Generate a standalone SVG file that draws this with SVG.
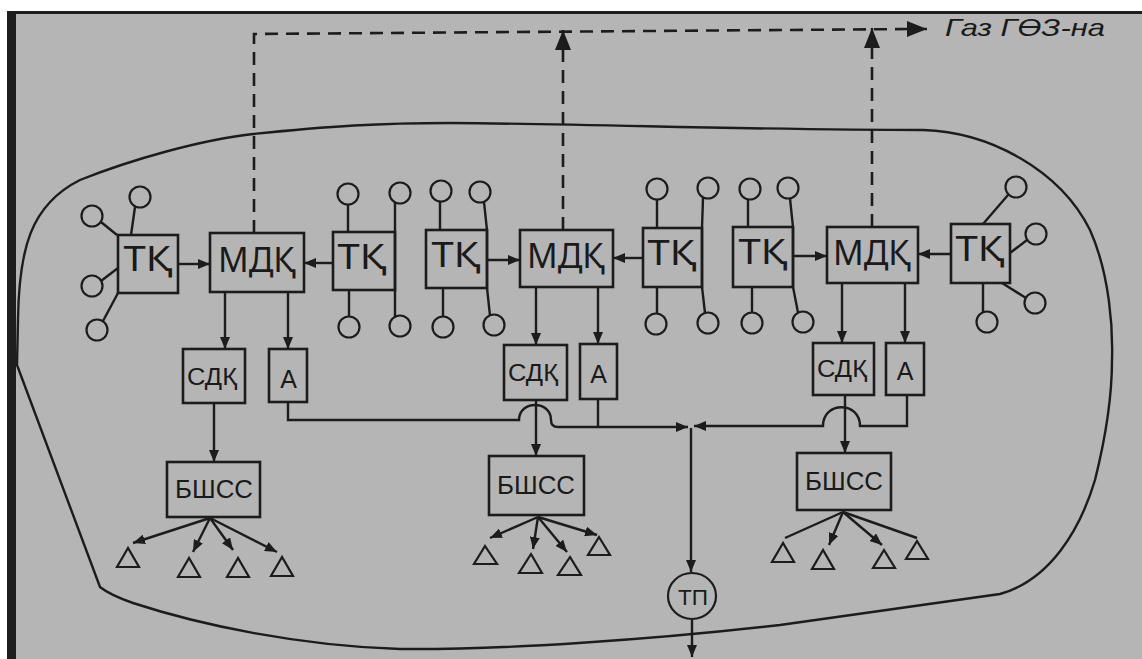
<svg xmlns="http://www.w3.org/2000/svg" width="1142" height="659" viewBox="0 0 1142 659">
<style>
.ln{fill:none;stroke:#1c1c1c;stroke-width:2.4}
.dash{fill:none;stroke:#1c1c1c;stroke-width:2.6;stroke-dasharray:13 8}
.box{fill:none;stroke:#1c1c1c;stroke-width:2.6}
.cir{fill:none;stroke:#1c1c1c;stroke-width:2.2}
.tri{fill:none;stroke:#1c1c1c;stroke-width:2.2;stroke-linejoin:miter}
.big{font-family:"Noto Sans","Open Sans","DejaVu Sans",sans-serif;font-size:34px;fill:#1a1a1a;text-anchor:middle}
.sm{font-family:"Liberation Sans","DejaVu Sans",sans-serif;fill:#1a1a1a;text-anchor:middle}
.lbl{font-family:"Liberation Sans","DejaVu Sans",sans-serif;font-style:italic;font-size:24px;fill:#1a1a1a}
</style>
<defs>
<marker id="ah" viewBox="0 0 12 10" refX="12" refY="5" markerWidth="12" markerHeight="10" markerUnits="userSpaceOnUse" orient="auto">
<path d="M0,0 L12,5 L0,10 Z" fill="#1c1c1c"/>
</marker>
<marker id="ahb" viewBox="0 0 20 16" refX="20" refY="8" markerWidth="20" markerHeight="16" markerUnits="userSpaceOnUse" orient="auto">
<path d="M0,0 L20,8 L0,16 Z" fill="#1c1c1c"/>
</marker>
</defs>
<rect x="0" y="0" width="1142" height="659" fill="#ffffff"/>
<rect x="7" y="11" width="1135" height="648" fill="#1e1e1e"/>
<rect x="16" y="14" width="1126" height="645" fill="#b5b5b5"/>

<path class="ln" d="M17,365 L18,320 C19,250 30,205 80,180 C130,160 200,140 253,134 C330,126 380,123 450,123 C600,124 750,130 923,130 C990,132 1060,170 1090,230 C1110,275 1113,330 1112,360 C1112,400 1105,440 1095,480 C1080,530 1050,580 1000,594 L780,625 C650,640 500,650 400,649 C300,646 200,625 133,603 Q110,595 100,587 Z"/>

<g id="connectors">
<path class="dash" d="M254,233 V34 L913,29"/>
<path class="ln" d="M913,29 L927,29" marker-end="url(#ahb)"/>
<path class="dash" d="M563,230 V48"/>
<path class="ln" d="M563,50 V30" marker-end="url(#ahb)"/>
<path class="dash" d="M872,227 V46"/>
<path class="ln" d="M872,48 V28" marker-end="url(#ahb)"/>

<path class="ln" d="M178,264 H210" marker-end="url(#ah)"/>
<path class="ln" d="M333,263 H304" marker-end="url(#ah)"/>
<path class="ln" d="M487,260 H520" marker-end="url(#ah)"/>
<path class="ln" d="M643,258 H613" marker-end="url(#ah)"/>
<path class="ln" d="M793,256 H827" marker-end="url(#ah)"/>
<path class="ln" d="M951,254 H918" marker-end="url(#ah)"/>

<path class="ln" d="M225,292 V349" marker-end="url(#ah)"/>
<path class="ln" d="M288,292 V349" marker-end="url(#ah)"/>
<path class="ln" d="M536,287 V345" marker-end="url(#ah)"/>
<path class="ln" d="M598,287 V344" marker-end="url(#ah)"/>
<path class="ln" d="M842,283 V343" marker-end="url(#ah)"/>
<path class="ln" d="M905,283 V343" marker-end="url(#ah)"/>

<path class="ln" d="M214,403 V462" marker-end="url(#ah)"/>
<path class="ln" d="M536,400 V456" marker-end="url(#ah)"/>
<path class="ln" d="M845,395 V453" marker-end="url(#ah)"/>

<path class="ln" d="M288,402 V420 H519 C519,400 551,400 551,420 Q551,427 558,427 H688" marker-end="url(#ah)"/>
<path class="ln" d="M598,399 V427"/>
<path class="ln" d="M907,395 V426 H860 C860,401 823,401 823,426 H694" marker-end="url(#ah)"/>
<path class="ln" d="M691,428 V572" marker-end="url(#ah)"/>
<path class="ln" d="M692,620 V657" marker-end="url(#ah)"/>

<path class="ln" d="M210,518 L133,543" marker-end="url(#ah)"/>
<path class="ln" d="M210,518 L193,552" marker-end="url(#ah)"/>
<path class="ln" d="M210,518 L233,550" marker-end="url(#ah)"/>
<path class="ln" d="M210,518 L277,552" marker-end="url(#ah)"/>

<path class="ln" d="M538,517 L490,538" marker-end="url(#ah)"/>
<path class="ln" d="M538,517 L533,549" marker-end="url(#ah)"/>
<path class="ln" d="M538,517 L567,552" marker-end="url(#ah)"/>
<path class="ln" d="M538,517 L597,535" marker-end="url(#ah)"/>

<path class="ln" d="M843,512 L785,538"/>
<path class="ln" d="M843,512 L829,545" marker-end="url(#ah)"/>
<path class="ln" d="M843,512 L882,545" marker-end="url(#ah)"/>
<path class="ln" d="M843,512 L917,538"/>
</g>

<g id="tk1">
<rect class="box" x="118" y="235" width="60" height="58"/>
<text class="big" x="148" y="271" textLength="49" lengthAdjust="spacingAndGlyphs">ТҚ</text>
<circle class="cir" cx="140" cy="197" r="10.5"/>
<circle class="cir" cx="92" cy="216" r="10.5"/>
<circle class="cir" cx="92" cy="286" r="10.5"/>
<circle class="cir" cx="97" cy="330" r="10.5"/>
<path class="ln" d="M131,235 L135,207 M117,235 L101,222 M118,268 L101,281 M118,293 L103,321"/>
</g>

<g id="mdk1">
<rect class="box" x="210" y="233" width="94" height="59"/>
<text class="big" x="257" y="272" textLength="78" lengthAdjust="spacingAndGlyphs">МДҚ</text>
</g>

<g id="tk2">
<rect class="box" x="333" y="232" width="62" height="58"/>
<text class="big" x="362" y="269" textLength="49" lengthAdjust="spacingAndGlyphs">ТҚ</text>
<circle class="cir" cx="348" cy="194" r="10.5"/>
<circle class="cir" cx="400" cy="193" r="10.5"/>
<circle class="cir" cx="349" cy="327" r="10.5"/>
<circle class="cir" cx="400" cy="326" r="10.5"/>
<path class="ln" d="M348,204.5 V232 M395,202 V318 M349,290 V316.5"/>
</g>

<g id="tk3">
<rect class="box" x="426" y="230" width="61" height="58"/>
<text class="big" x="456" y="267" textLength="49" lengthAdjust="spacingAndGlyphs">ТҚ</text>
<circle class="cir" cx="441" cy="191" r="10.5"/>
<circle class="cir" cx="480" cy="192" r="10.5"/>
<circle class="cir" cx="443" cy="327" r="10.5"/>
<circle class="cir" cx="494" cy="325" r="10.5"/>
<path class="ln" d="M440,201.5 V230 M484,202 L487,230 V288 L490,315.5 M443,288 V316.5"/>
</g>

<g id="mdk2">
<rect class="box" x="520" y="230" width="93" height="57"/>
<text class="big" x="566" y="268" textLength="78" lengthAdjust="spacingAndGlyphs">МДҚ</text>
</g>

<g id="tk4">
<rect class="box" x="643" y="228" width="59" height="59"/>
<text class="big" x="672" y="265" textLength="49" lengthAdjust="spacingAndGlyphs">ТҚ</text>
<circle class="cir" cx="657" cy="189" r="10.5"/>
<circle class="cir" cx="708" cy="188" r="10.5"/>
<circle class="cir" cx="656" cy="324" r="10.5"/>
<circle class="cir" cx="708" cy="323" r="10.5"/>
<path class="ln" d="M657,199.5 V228 M703,198 L702,228 V287 L705,313 M657,287 V313.5"/>
</g>

<g id="tk5">
<rect class="box" x="733" y="227" width="60" height="60"/>
<text class="big" x="763" y="264" textLength="49" lengthAdjust="spacingAndGlyphs">ТҚ</text>
<circle class="cir" cx="750" cy="189" r="10.5"/>
<circle class="cir" cx="788" cy="188" r="10.5"/>
<circle class="cir" cx="752" cy="323" r="10.5"/>
<circle class="cir" cx="803" cy="322" r="10.5"/>
<path class="ln" d="M748,199.5 V227 M790,198.5 L793,227 V287 L798,312.5 M752,287 V312.5"/>
</g>

<g id="mdk3">
<rect class="box" x="827" y="227" width="91" height="56"/>
<text class="big" x="872" y="265" textLength="78" lengthAdjust="spacingAndGlyphs">МДҚ</text>
</g>

<g id="tk6">
<rect class="box" x="951" y="224" width="59" height="59"/>
<text class="big" x="980" y="261" textLength="49" lengthAdjust="spacingAndGlyphs">ТҚ</text>
<circle class="cir" cx="1016" cy="187" r="10.5"/>
<circle class="cir" cx="1036" cy="234" r="10.5"/>
<circle class="cir" cx="1035" cy="303" r="10.5"/>
<circle class="cir" cx="987" cy="322" r="10.5"/>
<path class="ln" d="M983,224 L1008,195 M1010,253 L1027,240 M1002,283 L1026,298 M983,283 V312"/>
</g>

<g id="sdk1">
<rect class="box" x="183" y="349" width="62" height="54"/>
<text class="sm" x="212" y="385" font-size="23" textLength="50" lengthAdjust="spacingAndGlyphs">СДҚ</text>
</g>
<g id="a1">
<rect class="box" x="269" y="349" width="38" height="53"/>
<text class="sm" x="288.5" y="388" font-size="25">А</text>
</g>
<g id="bshss1">
<rect class="box" x="167" y="462" width="93" height="55"/>
<text class="sm" x="214" y="498" font-size="25" textLength="78" lengthAdjust="spacingAndGlyphs">БШСС</text>
</g>

<g id="sdk2">
<rect class="box" x="504" y="345" width="63" height="55"/>
<text class="sm" x="533" y="381" font-size="23" textLength="50" lengthAdjust="spacingAndGlyphs">СДҚ</text>
</g>
<g id="a2">
<rect class="box" x="580" y="344" width="37" height="55"/>
<text class="sm" x="598.5" y="383" font-size="25">А</text>
</g>
<g id="bshss2">
<rect class="box" x="489" y="456" width="95" height="59"/>
<text class="sm" x="536" y="494" font-size="25" textLength="78" lengthAdjust="spacingAndGlyphs">БШСС</text>
</g>

<g id="sdk3">
<rect class="box" x="813" y="343" width="61" height="52"/>
<text class="sm" x="842" y="377" font-size="23" textLength="50" lengthAdjust="spacingAndGlyphs">СДҚ</text>
</g>
<g id="a3">
<rect class="box" x="886" y="343" width="38" height="52"/>
<text class="sm" x="905" y="380" font-size="25">А</text>
</g>
<g id="bshss3">
<rect class="box" x="797" y="453" width="94" height="57"/>
<text class="sm" x="844" y="490" font-size="25" textLength="78" lengthAdjust="spacingAndGlyphs">БШСС</text>
</g>

<g id="tp">
<ellipse class="cir" cx="692" cy="596" rx="24" ry="23"/>
<text class="sm" x="693" y="605" font-size="22" textLength="30" lengthAdjust="spacingAndGlyphs">ТП</text>
</g>

<g id="sensors">
<path class="tri" d="M128,548 L117,567 L139,567 Z"/>
<path class="tri" d="M189,558 L178,577 L200,577 Z"/>
<path class="tri" d="M238,558 L227,577 L249,577 Z"/>
<path class="tri" d="M282,557 L271,576 L293,576 Z"/>
<path class="tri" d="M485,546 L474,564 L497,564 Z"/>
<path class="tri" d="M531,554 L519,573 L542,573 Z"/>
<path class="tri" d="M570,557 L558,575 L581,575 Z"/>
<path class="tri" d="M599,537 L588,555 L610,555 Z"/>
<path class="tri" d="M783,543 L772,562 L794,562 Z"/>
<path class="tri" d="M823,550 L812,569 L834,569 Z"/>
<path class="tri" d="M884,550 L873,568 L895,568 Z"/>
<path class="tri" d="M917,541 L906,559 L928,559 Z"/>
</g>

<g id="label">
<text class="lbl" x="945" y="36" textLength="160" lengthAdjust="spacingAndGlyphs">Газ ГӨЗ-на</text>
</g>
</svg>
